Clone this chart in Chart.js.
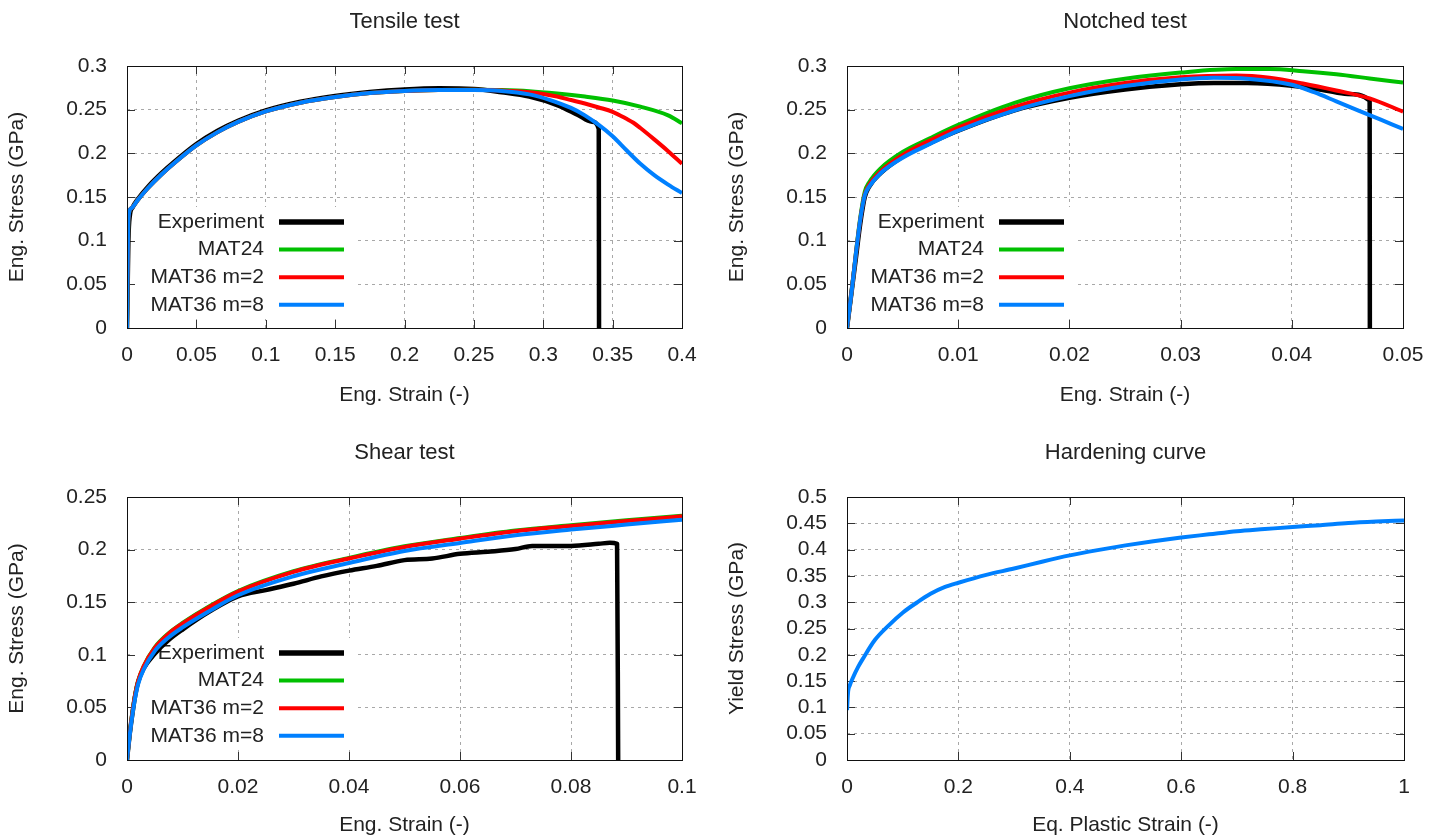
<!DOCTYPE html>
<html><head><meta charset="utf-8">
<script src="https://cdn.jsdelivr.net/npm/chart.js@4.4.1/dist/chart.umd.min.js"></script>
<style>
html,body{margin:0;padding:0;background:#fff;width:1438px;height:839px;overflow:hidden}
canvas{position:absolute}
</style></head><body>
<canvas id="c1" width="720" height="420" style="left:0;top:0"></canvas>
<canvas id="c2" width="718" height="420" style="left:720px;top:0"></canvas>
<canvas id="c3" width="720" height="419" style="left:0;top:420px"></canvas>
<canvas id="c4" width="718" height="419" style="left:720px;top:420px"></canvas>
<script>
// ---------- DATA ----------
const seriesLabels = ['Experiment', 'MAT24', 'MAT36 m=2', 'MAT36 m=8'];

// Tensile test
const tensileXTicks = [0, 0.05, 0.1, 0.15, 0.2, 0.25, 0.3, 0.35, 0.4];
const tensileYTicks = [0, 0.05, 0.1, 0.15, 0.2, 0.25, 0.3];
const tensileExpX = [0, 0.0005, 0.001, 0.002, 0.004, 0.008, 0.015, 0.025, 0.035, 0.05, 0.065, 0.08, 0.1, 0.125, 0.15, 0.175, 0.2, 0.225, 0.25, 0.27, 0.29, 0.31, 0.325, 0.335, 0.34, 0.3402];
const tensileExpY = [0, 0.05, 0.1, 0.128, 0.138, 0.148, 0.1615, 0.1775, 0.1915, 0.2105, 0.2255, 0.2372, 0.2492, 0.2592, 0.2658, 0.2703, 0.2732, 0.2745, 0.2738, 0.27, 0.265, 0.2553, 0.244, 0.2363, 0.228, 0];
const tensileMat24X = [0, 0.001, 0.003, 0.008, 0.015, 0.025, 0.035, 0.05, 0.065, 0.08, 0.1, 0.125, 0.15, 0.175, 0.2, 0.225, 0.25, 0.27, 0.29, 0.31, 0.33, 0.35, 0.37, 0.39, 0.4];
const tensileMat24Y = [0, 0.125, 0.137, 0.147, 0.16, 0.176, 0.19, 0.209, 0.224, 0.236, 0.248, 0.258, 0.2645, 0.269, 0.2715, 0.2725, 0.2728, 0.2725, 0.2712, 0.2685, 0.265, 0.2605, 0.2535, 0.2435, 0.2345];
const tensileM2X = [0, 0.001, 0.003, 0.008, 0.015, 0.025, 0.035, 0.05, 0.065, 0.08, 0.1, 0.125, 0.15, 0.175, 0.2, 0.225, 0.25, 0.27, 0.29, 0.3, 0.31, 0.32, 0.33, 0.34, 0.35, 0.36, 0.365, 0.37, 0.38, 0.39, 0.4];
const tensileM2Y = [0, 0.125, 0.137, 0.147, 0.16, 0.176, 0.19, 0.209, 0.224, 0.236, 0.248, 0.258, 0.2645, 0.269, 0.2715, 0.2725, 0.2727, 0.272, 0.27, 0.268, 0.265, 0.261, 0.257, 0.2525, 0.2475, 0.2395, 0.235, 0.229, 0.216, 0.2025, 0.188];
const tensileM8X = [0, 0.001, 0.003, 0.008, 0.015, 0.025, 0.035, 0.05, 0.065, 0.08, 0.1, 0.125, 0.15, 0.175, 0.2, 0.225, 0.25, 0.27, 0.29, 0.305, 0.32, 0.33, 0.34, 0.35, 0.36, 0.37, 0.38, 0.39, 0.4];
const tensileM8Y = [0, 0.125, 0.137, 0.147, 0.16, 0.176, 0.19, 0.209, 0.224, 0.236, 0.248, 0.258, 0.2645, 0.269, 0.2715, 0.2725, 0.2725, 0.2715, 0.2675, 0.261, 0.252, 0.2435, 0.2325, 0.2195, 0.2035, 0.188, 0.175, 0.1642, 0.1546];

// Notched test
const notchedXTicks = [0, 0.01, 0.02, 0.03, 0.04, 0.05];
const notchedYTicks = [0, 0.05, 0.1, 0.15, 0.2, 0.25, 0.3];
const notchedExpX = [0, 0.0003, 0.0008, 0.0012, 0.0016, 0.002, 0.003, 0.005, 0.0075, 0.01, 0.015, 0.02, 0.025, 0.03, 0.033, 0.036, 0.04, 0.043, 0.045, 0.047, 0.04702];
const notchedExpY = [0, 0.03, 0.08, 0.12, 0.15, 0.162, 0.177, 0.196, 0.212, 0.226, 0.249, 0.2635, 0.273, 0.279, 0.2805, 0.2805, 0.2775, 0.272, 0.268, 0.2605, 0];
const notchedMat24X = [0, 0.0004, 0.0008, 0.0012, 0.0016, 0.002, 0.003, 0.005, 0.0075, 0.01, 0.015, 0.02, 0.025, 0.03, 0.035, 0.038, 0.041, 0.044, 0.047, 0.05];
const notchedMat24Y = [0, 0.04, 0.086, 0.127, 0.156, 0.167, 0.1825, 0.2015, 0.2175, 0.2325, 0.2575, 0.2745, 0.2855, 0.2925, 0.2965, 0.2965, 0.294, 0.2905, 0.2858, 0.281];
const notchedM2X = [0, 0.0004, 0.0008, 0.0012, 0.0016, 0.002, 0.003, 0.005, 0.0075, 0.01, 0.015, 0.02, 0.025, 0.03, 0.035, 0.038, 0.041, 0.044, 0.047, 0.05];
const notchedM2Y = [0, 0.04, 0.085, 0.125, 0.153, 0.164, 0.179, 0.198, 0.215, 0.2295, 0.253, 0.2695, 0.2805, 0.287, 0.289, 0.2865, 0.28, 0.272, 0.263, 0.2477];
const notchedM8X = [0, 0.0004, 0.0008, 0.0012, 0.0016, 0.002, 0.003, 0.005, 0.0075, 0.01, 0.015, 0.02, 0.025, 0.03, 0.033, 0.036, 0.04, 0.042, 0.044, 0.046, 0.048, 0.05];
const notchedM8Y = [0, 0.04, 0.085, 0.125, 0.152, 0.162, 0.177, 0.195, 0.211, 0.226, 0.249, 0.2655, 0.277, 0.2845, 0.2865, 0.2855, 0.2785, 0.27, 0.2595, 0.249, 0.2385, 0.228];

// Shear test
const shearXTicks = [0, 0.02, 0.04, 0.06, 0.08, 0.1];
const shearYTicks = [0, 0.05, 0.1, 0.15, 0.2, 0.25];
const shearExpX = [0, 0.0005, 0.001, 0.0015, 0.002, 0.003, 0.005, 0.0075, 0.01, 0.015, 0.02, 0.025, 0.03, 0.035, 0.04, 0.045, 0.05, 0.055, 0.06, 0.065, 0.07, 0.073, 0.08, 0.085, 0.087, 0.0883, 0.0885];
const shearExpY = [0, 0.025, 0.045, 0.062, 0.074, 0.087, 0.101, 0.114, 0.124, 0.1415, 0.1555, 0.1615, 0.1675, 0.1745, 0.18, 0.1845, 0.19, 0.1915, 0.196, 0.198, 0.2005, 0.2035, 0.2035, 0.2055, 0.2065, 0.2055, 0];
const shearModelX = [0, 0.0005, 0.001, 0.0015, 0.002, 0.003, 0.005, 0.0075, 0.01, 0.015, 0.02, 0.03, 0.04, 0.05, 0.06, 0.07, 0.08, 0.09, 0.1];
const shearMat24Y = [0, 0.025, 0.046, 0.063, 0.075, 0.089, 0.107, 0.1205, 0.1302, 0.1466, 0.1606, 0.1794, 0.1921, 0.2031, 0.211, 0.2181, 0.2232, 0.2279, 0.2323];
const shearM2Y = [0, 0.025, 0.046, 0.063, 0.075, 0.089, 0.1065, 0.12, 0.1297, 0.146, 0.16, 0.1788, 0.1915, 0.2025, 0.2104, 0.2175, 0.2225, 0.2272, 0.2316];
const shearM8Y = [0, 0.024, 0.044, 0.06, 0.072, 0.086, 0.1035, 0.1165, 0.126, 0.142, 0.1566, 0.1747, 0.1873, 0.1987, 0.2063, 0.2136, 0.219, 0.2238, 0.2285];

// Hardening curve
const hardXTicks = [0, 0.2, 0.4, 0.6, 0.8, 1];
const hardYTicks = [0, 0.05, 0.1, 0.15, 0.2, 0.25, 0.3, 0.35, 0.4, 0.45, 0.5];
const hardX = [0, 0.002, 0.005, 0.01, 0.02, 0.03, 0.05, 0.075, 0.1, 0.125, 0.15, 0.175, 0.2, 0.25, 0.3, 0.35, 0.4, 0.45, 0.5, 0.55, 0.6, 0.65, 0.7, 0.75, 0.8, 0.85, 0.9, 0.95, 1.0];
const hardY = [0.095, 0.13, 0.142, 0.155, 0.177, 0.195, 0.228, 0.256, 0.28, 0.299, 0.316, 0.3285, 0.337, 0.352, 0.364, 0.377, 0.389, 0.399, 0.408, 0.416, 0.423, 0.429, 0.435, 0.439, 0.443, 0.4465, 0.4505, 0.4533, 0.4555];

// ---------- RENDER ----------
const FONT = '"Liberation Sans", Arial, Helvetica, sans-serif';
const TXT = '#222';
const seriesColors = ['#000000', '#00c000', '#ff0000', '#0080ff'];
const seriesWidths = [4.5, 4, 4, 4];
const legendWidths = [5.5, 4, 4, 4];

function pts(xs, ys) { return xs.map((x, i) => ({ x: x, y: ys[i] })); }

function ds(i, xs, ys) {
  return {
    label: seriesLabels[i], data: pts(xs, ys),
    borderColor: seriesColors[i], backgroundColor: seriesColors[i],
    borderWidth: seriesWidths[i], legendWidth: legendWidths[i],
    pointRadius: 0, fill: false, cubicInterpolationMode: 'monotone',
    borderJoinStyle: 'round', order: 4 - i
  };
}

const framePlugin = {
  id: 'frame',
  beforeDatasetsDraw(chart, args, opts) {
    const ctx = chart.ctx, a = chart.chartArea, x = chart.scales.x, y = chart.scales.y;
    ctx.save();
    if (opts.legend) {
      ctx.fillStyle = '#ffffff';
      ctx.fillRect(a.left + 4, a.top + 141, 226, 112);
    }
    ctx.strokeStyle = '#333';
    ctx.lineWidth = 1;
    ctx.beginPath();
    x.ticks.forEach(t => {
      const px = Math.round(x.getPixelForValue(t.value)) + 0.5;
      ctx.moveTo(px, a.bottom); ctx.lineTo(px, a.bottom - 8);
      ctx.moveTo(px, a.top); ctx.lineTo(px, a.top + 8);
    });
    y.ticks.forEach(t => {
      const py = Math.round(y.getPixelForValue(t.value)) + 0.5;
      ctx.moveTo(a.left, py); ctx.lineTo(a.left + 8, py);
      ctx.moveTo(a.right, py); ctx.lineTo(a.right - 8, py);
    });
    ctx.stroke();
    if (opts.legend) {
      ctx.font = '21px ' + FONT;
      ctx.textAlign = 'right';
      ctx.textBaseline = 'middle';
      chart.data.datasets.forEach((d, i) => {
        const yy = a.top + 156 + i * 27.6;
        ctx.fillStyle = TXT;
        ctx.fillText(d.label, a.left + 137, yy);
        ctx.strokeStyle = d.borderColor;
        ctx.lineWidth = d.legendWidth;
        ctx.beginPath(); ctx.moveTo(a.left + 152, yy); ctx.lineTo(a.left + 217, yy); ctx.stroke();
      });
    }
    ctx.restore();
  },
  afterDatasetsDraw(chart) {
    const ctx = chart.ctx, a = chart.chartArea;
    ctx.save();
    ctx.strokeStyle = '#111';
    ctx.lineWidth = 1;
    ctx.strokeRect(Math.round(a.left) + 0.5, Math.round(a.top) + 0.5, Math.round(a.right - a.left), Math.round(a.bottom - a.top));
    ctx.restore();
  }
};

function makeChart(id, c) {
  new Chart(document.getElementById(id), {
    type: 'line',
    data: { datasets: c.datasets },
    options: {
      responsive: false, animation: false, events: [],
      layout: { padding: { left: 0, top: 0, right: c.W - c.R, bottom: 0 } },
      plugins: {
        legend: { display: false },
        tooltip: { enabled: false },
        title: { display: true, text: c.title, fullSize: false, color: TXT,
                 font: { family: FONT, size: 22, weight: 'normal', lineHeight: 1.2 }, padding: c.titlePad },
        frame: { legend: c.legend }
      },
      scales: {
        x: {
          type: 'linear', min: c.xMin, max: c.xMax,
          afterFit: s => { s.height = c.H - c.B; },
          afterBuildTicks: s => { s.ticks = c.xTicks.map(v => ({ value: v })); },
          ticks: { autoSkip: false, maxRotation: 0, padding: 14.4, color: TXT,
                   font: { family: FONT, size: 21, lineHeight: 1.2 }, callback: v => String(v) },
          grid: { color: '#a8a8a8', lineWidth: 1, drawTicks: false },
          border: { display: false, dash: [3, 4] },
          title: { display: true, text: c.xTitle, color: TXT,
                   font: { family: FONT, size: 21, lineHeight: 1.2 }, padding: { top: 0, bottom: c.xTitlePad } }
        },
        y: {
          type: 'linear', min: c.yMin, max: c.yMax,
          afterFit: s => { s.width = c.L; },
          afterBuildTicks: s => { s.ticks = c.yTicks.map(v => ({ value: v })); },
          ticks: { autoSkip: false, padding: 20, color: TXT,
                   font: { family: FONT, size: 21, lineHeight: 1.2 }, callback: v => String(v) },
          grid: { color: '#a8a8a8', lineWidth: 1, drawTicks: false },
          border: { display: false, dash: [3, 4] },
          title: { display: true, text: c.yTitle, color: TXT,
                   font: { family: FONT, size: 21, lineHeight: 1.2 }, padding: { top: 4.4, bottom: 0 } }
        }
      }
    },
    plugins: [framePlugin]
  });
}

makeChart('c1', {
  W: 720, H: 420, L: 127, R: 682, B: 328,
  title: 'Tensile test', titlePad: { top: 9, bottom: 30.6 },
  xTitle: 'Eng. Strain (-)', yTitle: 'Eng. Stress (GPa)', xTitlePad: 12.4,
  xMin: 0, xMax: 0.4, yMin: 0, yMax: 0.3, xTicks: tensileXTicks, yTicks: tensileYTicks, legend: true,
  datasets: [ds(0, tensileExpX, tensileExpY), ds(1, tensileMat24X, tensileMat24Y), ds(2, tensileM2X, tensileM2Y), ds(3, tensileM8X, tensileM8Y)]
});
makeChart('c2', {
  W: 718, H: 420, L: 127, R: 683, B: 328,
  title: 'Notched test', titlePad: { top: 9, bottom: 30.6 },
  xTitle: 'Eng. Strain (-)', yTitle: 'Eng. Stress (GPa)', xTitlePad: 12.4,
  xMin: 0, xMax: 0.05, yMin: 0, yMax: 0.3, xTicks: notchedXTicks, yTicks: notchedYTicks, legend: true,
  datasets: [ds(0, notchedExpX, notchedExpY), ds(1, notchedMat24X, notchedMat24Y), ds(2, notchedM2X, notchedM2Y), ds(3, notchedM8X, notchedM8Y)]
});
makeChart('c3', {
  W: 720, H: 419, L: 127, R: 682, B: 340,
  title: 'Shear test', titlePad: { top: 19.8, bottom: 30.8 },
  xTitle: 'Eng. Strain (-)', yTitle: 'Eng. Stress (GPa)', xTitlePad: 1.4,
  xMin: 0, xMax: 0.1, yMin: 0, yMax: 0.25, xTicks: shearXTicks, yTicks: shearYTicks, legend: true,
  datasets: [ds(0, shearExpX, shearExpY), ds(1, shearModelX, shearMat24Y), ds(2, shearModelX, shearM2Y), ds(3, shearModelX, shearM8Y)]
});
makeChart('c4', {
  W: 718, H: 419, L: 127, R: 684, B: 340,
  title: 'Hardening curve', titlePad: { top: 19.8, bottom: 30.8 },
  xTitle: 'Eq. Plastic Strain (-)', yTitle: 'Yield Stress (GPa)', xTitlePad: 1.4,
  xMin: 0, xMax: 1, yMin: 0, yMax: 0.5, xTicks: hardXTicks, yTicks: hardYTicks, legend: false,
  datasets: [Object.assign(ds(3, hardX, hardY), { label: 'Hardening curve' })]
});
</script>
</body></html>
